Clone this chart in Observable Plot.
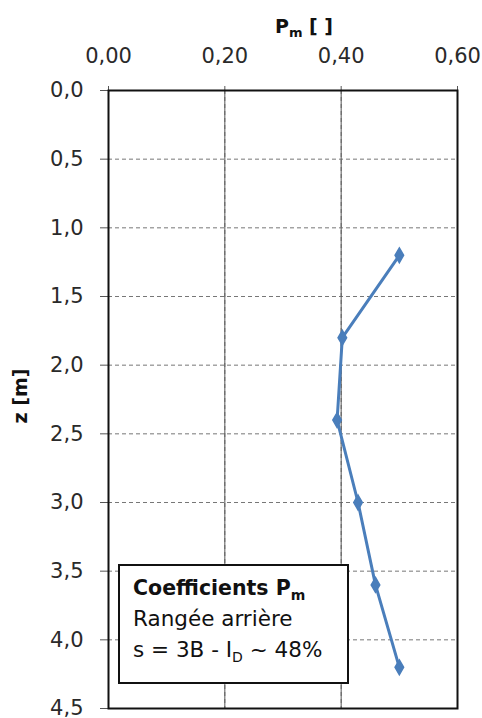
<!DOCTYPE html>
<html>
<head>
<meta charset="utf-8">
<script src="https://cdn.jsdelivr.net/npm/d3@7"></script>
<script src="https://cdn.jsdelivr.net/npm/@observablehq/plot@0.6"></script>
<style>
  html, body { margin: 0; padding: 0; background: #fff; }
  #chart { position: relative; width: 482px; height: 718px; overflow: hidden; }
</style>
</head>
<body>
<div id="chart"></div>
<script>
// Data: depth z [m] and coefficient Pm [ ]
const depth = [1.2, 1.8, 2.4, 3.0, 3.6, 4.2];
const pm = [0.50, 0.402, 0.393, 0.429, 0.459, 0.50];
const xTicks = [0, 0.2, 0.4, 0.6];
const yTicks = [0, 0.5, 1.0, 1.5, 2.0, 2.5, 3.0, 3.5, 4.0, 4.5];
const xGrid = [0.2, 0.4];
const yGrid = [0.5, 1.0, 1.5, 2.0, 2.5, 3.0, 3.5, 4.0];
const legendLines = ["Coefficients P", "Rangée arrière", "s = 3B - I"];

const data = depth.map((z, i) => ({z, pm: pm[i]}));
const comma = (d, n) => d.toFixed(n).replace(".", ",");
const blue = "#4a7ebb";
const FONT = "DejaVu Sans, Arial, sans-serif";

const plot = Plot.plot({
  width: 482,
  height: 718,
  marginTop: 90,
  marginLeft: 108,
  marginRight: 25,
  marginBottom: 10,
  style: {fontFamily: FONT, fontSize: "21px", color: "#222", background: "#fff"},
  x: {domain: [0, 0.6], axis: null},
  y: {domain: [0, 4.5], reverse: true, axis: null},
  marks: [
    Plot.ruleX(xGrid, {stroke: "#777", strokeDasharray: "4,3", strokeWidth: 1}),
    Plot.ruleY(yGrid, {stroke: "#777", strokeDasharray: "4,3", strokeWidth: 1}),
    Plot.axisX(xTicks, {anchor: "top", tickSize: 5, tickPadding: 23, tickFormat: d => comma(d, 2), label: null, stroke: "#555", fill: "#2a2a2a", fontSize: 21}),
    Plot.tickX(xTicks, {x: d => d, stroke: "#555", strokeWidth: 1, y1: 0, y2: 0.04}),
    Plot.axisY(yTicks, {anchor: "left", tickSize: 8, tickPadding: 17, tickFormat: d => comma(d, 1), label: null, stroke: "#555", fill: "#2a2a2a", fontSize: 21}),
    Plot.frame({stroke: "#111", strokeWidth: 2}),
    Plot.line(data, {x: "pm", y: "z", stroke: blue, strokeWidth: 3, sort: null}),
    Plot.dot(data, {x: "pm", y: "z", symbol: "diamond", r: 4.5, fill: blue, stroke: blue})
  ]
});

document.getElementById("chart").appendChild(plot);
const svg = d3.select(plot);

// Axis titles
const xt = svg.append("text")
  .attr("x", 304).attr("y", 33)
  .attr("text-anchor", "middle")
  .attr("font-family", FONT)
  .attr("font-size", 19).attr("font-weight", "bold").attr("fill", "#111");
xt.append("tspan").text("P");
xt.append("tspan").attr("font-size", 13).attr("dy", 4).text("m");
xt.append("tspan").attr("dy", -4).text(" [ ]");

svg.append("text")
  .attr("transform", "translate(27,396) rotate(-90)")
  .attr("text-anchor", "middle")
  .attr("font-family", FONT)
  .attr("font-size", 19).attr("font-weight", "bold").attr("fill", "#111")
  .text("z [m]");

// Legend box
const bx = 119, by = 565, bw = 229, bh = 118;
svg.append("rect").attr("x", bx).attr("y", by).attr("width", bw).attr("height", bh)
  .attr("fill", "#fff").attr("stroke", "#111").attr("stroke-width", 2);
const g = svg.append("g").attr("text-anchor", "start").attr("font-family", FONT).attr("fill", "#111");
const t1 = g.append("text").attr("x", 133).attr("y", 595).attr("font-size", 20.5).attr("font-weight", "bold");
t1.append("tspan").text(legendLines[0]);
t1.append("tspan").attr("font-size", 14).attr("dy", 5).text("m");
g.append("text").attr("x", 133).attr("y", 626).attr("font-size", 21.5).text(legendLines[1]);
const t3 = g.append("text").attr("x", 133).attr("y", 657).attr("font-size", 21.5);
t3.append("tspan").text(legendLines[2]);
t3.append("tspan").attr("font-size", 14).attr("dy", 5).text("D");
t3.append("tspan").attr("dy", -5).text(" ~ 48%");
</script>
</body>
</html>
